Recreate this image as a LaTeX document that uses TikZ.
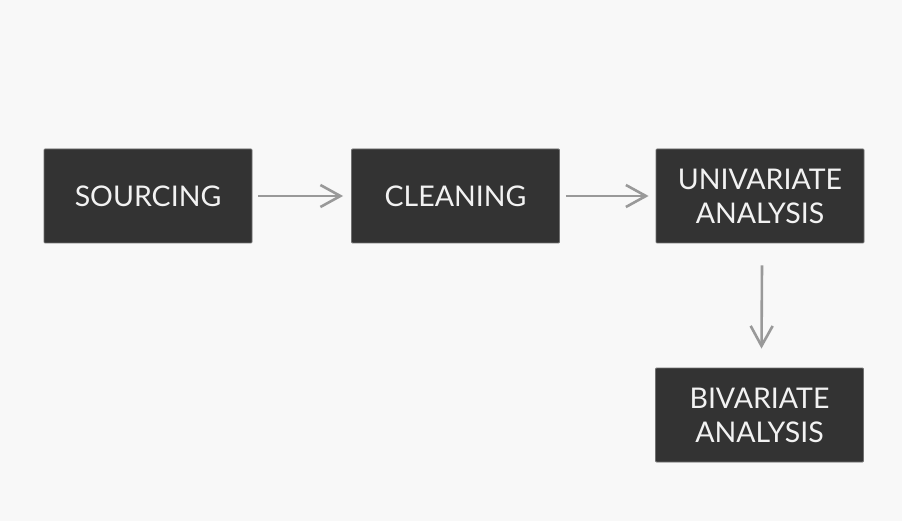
\documentclass[tikz,border=0pt]{standalone}
\usepackage{fontspec}
\setmainfont{Lato}
\usetikzlibrary{arrows.meta}
\definecolor{bg}{HTML}{F8F8F8}
\definecolor{boxc}{HTML}{333333}
\definecolor{arr}{HTML}{999999}
\tikzset{
  stage/.style={fill=boxc, draw=boxc!70!white, line width=0.8pt, text=white!95!black, minimum width=208pt, minimum height=94pt, align=center, font=\fontsize{28.5pt}{34pt}\selectfont, inner sep=0pt, rounded corners=1pt},
  flow/.style={draw=arr, line width=2.6pt, -{Straight Barb[length=20pt,width=22pt,line width=2.6pt]}}
}
\begin{document}
\begin{tikzpicture}[x=1pt,y=-1pt]
\fill[bg] (0,0) rectangle (902,521);
\useasboundingbox (0,0) rectangle (902,521);
\node[stage] (src) at (148,196) {SOURCING};
\node[stage] (cln) at (455.5,196) {CLEANING};
\node[stage] (uni) at (760,196) {UNIVARIATE\\ANALYSIS};
\node[stage] (biv) at (759.5,415) {BIVARIATE\\ANALYSIS};
\draw[flow] ([xshift=6pt]src.east) -- ([xshift=-8pt]cln.west);
\draw[flow] ([xshift=6pt]cln.east) -- ([xshift=-7pt]uni.west);
\draw[flow] ([xshift=2pt,yshift=-22pt]uni.south) -- ([xshift=2pt,yshift=19pt]biv.north);
\end{tikzpicture}
\end{document}
